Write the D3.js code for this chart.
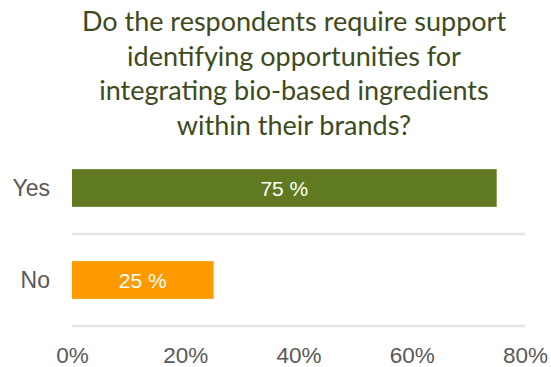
<!DOCTYPE html>
<html>
<head>
<meta charset="utf-8">
<script src="https://cdn.jsdelivr.net/npm/d3@7"></script>
<style>
  html, body { margin: 0; padding: 0; background: #fff; }
  svg { display: block; }
</style>
</head>
<body>
<svg id="chart" width="551" height="367"></svg>
<script>
// Survey answers
const categories = ["Yes", "No"];
const shares = [75, 25];
const barColors = ["#607A21", "#FF9900"];
const tickValues = [0, 20, 40, 60, 80];
const titleLines = [
  "Do the respondents require support",
  "identifying opportunities for",
  "integrating bio-based ingredients",
  "within their brands?"
];

const svg = d3.select("#chart");
const plot = { left: 72, right: 525, top: 142, bottom: 326 };

// Title, centred over the plot
const title = svg.append("g")
  .attr("font-family", "Lato, 'Open Sans', sans-serif")
  .attr("fill", "#3D4B1C")
  .attr("text-anchor", "middle");
title.selectAll("text")
  .data(titleLines)
  .join("text")
  .attr("x", 294)
  .attr("y", (d, i) => 30.7 + i * 34.8)
  .attr("font-size", 27)
  .text(d => d);

const x = d3.scaleLinear().domain([0, 80]).range([plot.left, plot.right]);
const y = d3.scaleBand().domain(categories).range([plot.top, plot.bottom]).paddingInner(0.59).paddingOuter(0.295);

// Gridlines under each category band
const bandStep = y.step();
svg.append("g")
  .selectAll("line")
  .data(categories)
  .join("line")
  .attr("x1", plot.left)
  .attr("x2", plot.right)
  .attr("y1", d => y(d) + y.bandwidth() / 2 + bandStep / 2)
  .attr("y2", d => y(d) + y.bandwidth() / 2 + bandStep / 2)
  .attr("stroke", "#E5E5E5")
  .attr("stroke-width", 2.5);

// Bars
svg.append("g")
  .selectAll("rect")
  .data(categories)
  .join("rect")
  .attr("x", x(0))
  .attr("y", d => y(d))
  .attr("width", (d, i) => x(shares[i]) - x(0))
  .attr("height", y.bandwidth())
  .attr("fill", (d, i) => barColors[i]);

// Value labels inside bars
svg.append("g")
  .attr("font-family", "'Liberation Sans', Arial, sans-serif")
  .attr("font-size", 21)
  .attr("fill", "#fff")
  .attr("text-anchor", "middle")
  .selectAll("text")
  .data(categories)
  .join("text")
  .attr("x", (d, i) => (x(0) + x(shares[i])) / 2)
  .attr("y", d => y(d) + y.bandwidth() / 2)
  .attr("dy", "0.4em")
  .text((d, i) => shares[i] + " %");

// Category axis
const yAxis = svg.append("g")
  .attr("transform", `translate(${plot.left - 22},0)`)
  .call(d3.axisLeft(y).tickSize(0).tickPadding(0));
yAxis.select(".domain").remove();
yAxis.selectAll("text")
  .attr("font-family", "'Liberation Sans', Arial, sans-serif")
  .attr("font-size", 23)
  .attr("fill", "#595959")
  .attr("dy", "0.36em");

// Value axis
const xAxis = svg.append("g")
  .attr("transform", `translate(0,${plot.bottom})`)
  .call(d3.axisBottom(x).tickValues(tickValues).tickFormat(d => d + "%").tickSize(0).tickPadding(0));
xAxis.select(".domain").remove();
xAxis.selectAll("text")
  .attr("font-family", "'Liberation Sans', Arial, sans-serif")
  .attr("font-size", 22.5)
  .attr("fill", "#595959")
  .attr("dy", 0)
  .attr("y", 37);
</script>
</body>
</html>
